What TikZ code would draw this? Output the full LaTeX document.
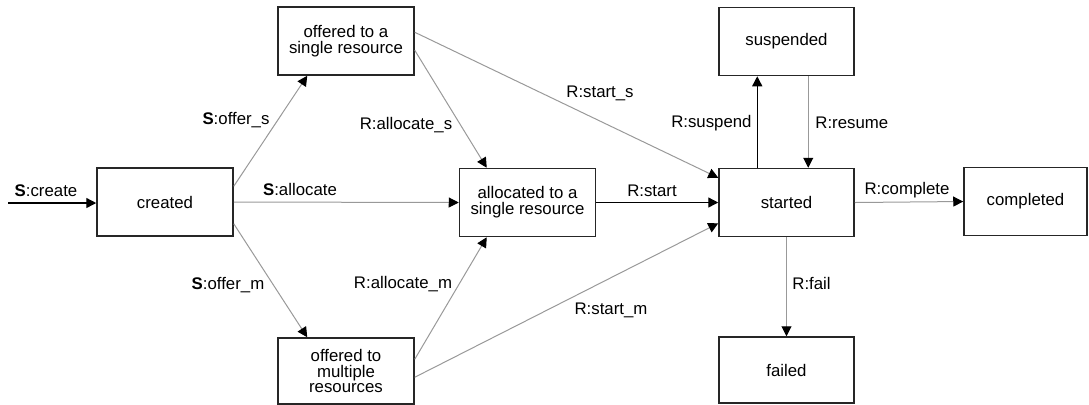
\documentclass[tikz,border=0pt]{standalone}
\usepackage{fontspec}
\setmainfont{Liberation Sans}
\usetikzlibrary{arrows.meta,calc}
\begin{document}
\begin{tikzpicture}[x=0.5pt,y=-0.5pt,
  txt/.style={font=\fontsize{8.4pt}{7.9pt}\selectfont},
  state/.style={txt,draw=black!85,line width=0.75pt,inner sep=0pt,align=center,
    minimum width=68pt,minimum height=34pt},
  tip/.style={-{Triangle[length=5pt,width=5pt,color=black,fill=black]}},
  strong/.style={tip,draw=black,line width=0.7pt},
  weak/.style={tip,draw=black!40,line width=0.5pt},
  lbl/.style={txt,inner sep=0pt}]
\useasboundingbox (0,0) rectangle (1089,404);
\begin{scope}
\clip (0,0) rectangle (1089,404);
% states
\node[state] (created) at (165,202) {created};
\node[state] (offs) at (346,41) {offered to a\\single resource};
\node[state] (alloc) at (527.5,202.5) {allocated to a\\single resource};
\node[state,minimum width=67.5pt] (started) at (786.5,202.5) {started};
\node[state,minimum width=67.5pt] (susp) at (786.5,41.5) {suspended};
\node[state,minimum width=61.5pt] (compl) at (1025.5,201.5) {completed};
\node[state,minimum height=33pt] (offm) at (346,371) {offered to\\multiple\\resources};
\node[state,minimum width=67.5pt,minimum height=33pt] (failed) at (786.5,370) {failed};
\coordinate (entry) at (8,203);

% transitions
\draw[strong] (entry) -- (created.west |- entry);
\draw[weak] ($(created.north east)+(0,19)$) -- ($(offs.south west)+(30,0)$);
\draw[weak] (created.east) -- (alloc.west);
\draw[weak] ($(created.south east)+(0,-13)$) -- ($(offm.north west)+(30,0)$);
\draw[weak] ($(offs.north east)+(0,44)$) -- ($(alloc.north west)+(28,0)$);
\draw[weak] ($(offs.north east)+(0,26)$) -- ($(started.north west)+(0,10)$);
\draw[strong] (alloc.east) -- (started.west);
\draw[weak] ($(offm.north east)+(0,22)$) -- ($(alloc.south west)+(28,0)$);
\draw[weak] ($(offm.north east)+(0,40)$) -- ($(started.south west)+(0,-14)$);
\draw[strong] ($(started.north west)+(39,0)$) -- ($(susp.south west)+(39,0)$);
\draw[weak] ($(susp.south west)+(90,0)$) -- ($(started.north west)+(90,0)$);
\draw[weak] (started.east) -- (compl.west);
\draw[weak] (started.south) -- (failed.north);

% transition labels
\node[lbl] (l-create) at (46,191) {\textbf{S}:create};
\node[lbl] (l-offers) at (236,120) {\textbf{S}:offer\_s};
\node[lbl] (l-alloc) at (300,189) {\textbf{S}:allocate};
\node[lbl] (l-offerm) at (228,285) {\textbf{S}:offer\_m};
\node[lbl] (l-allocs) at (406,125) {R:allocate\_s};
\node[lbl] (l-starts) at (600,93) {R:start\_s};
\node[lbl] (l-start) at (652,191) {R:start};
\node[lbl] (l-allocm) at (403,284) {R:allocate\_m};
\node[lbl] (l-startm) at (611,310) {R:start\_m};
\node[lbl,anchor=east] (l-susp) at (752,123) {R:suspend};
\node[lbl,anchor=west] (l-resume) at (815,123) {R:resume};
\node[lbl] (l-compl) at (907,190) {R:complete};
\node[lbl,anchor=west] (l-fail) at (792,283) {R:fail};
\end{scope}
\end{tikzpicture}
\end{document}
